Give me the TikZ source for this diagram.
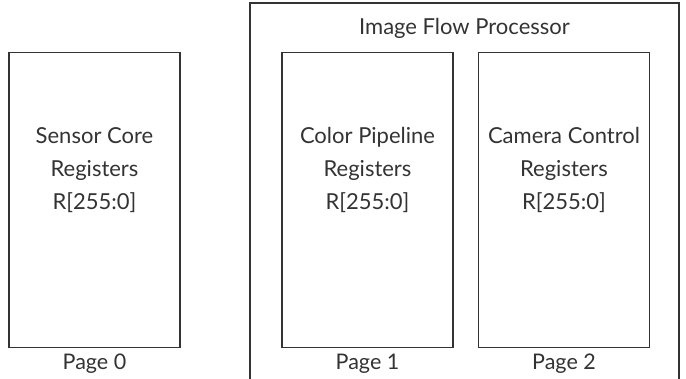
\documentclass[tikz,border=0pt]{standalone}
\usepackage{fontspec}
\setmainfont{Lato}
\usepackage{tikz}
\usetikzlibrary{positioning}

\definecolor{ink}{HTML}{333333}

\tikzset{
    regbox/.style={draw=ink, line width=1.4pt, minimum width=171pt, minimum height=295pt, inner sep=0pt},
    regtext/.style={text=ink, font=\fontsize{22}{33}\selectfont, align=center},
    pagetext/.style={text=ink, font=\fontsize{21.5}{24}\selectfont}
}

\begin{document}
\begin{tikzpicture}[x=1pt,y=-1pt]
    \useasboundingbox (0,0) rectangle (686,379);

    % outer block, open at the bottom
    \draw[ink, line width=1.4pt] (250,379) -- (250,3) -- (679,3) -- (679,379);
    \node[regtext] (ifp) at (464.5,28) {Image Flow Processor};

    \node[regbox] (sensor) at (94.5,200) {};
    \node[regbox] (color) at (367.5,200) {};
    \node[regbox] (camera) at (564,200) {};

    \node[regtext] (sensorlbl) at (94.5,170) {Sensor Core\\Registers\\R[255:0]};
    \node[regtext] (colorlbl) at (367.5,170) {Color Pipeline\\Registers\\R[255:0]};
    \node[regtext] (cameralbl) at (564,170) {Camera Control\\Registers\\R[255:0]};

    \node[pagetext, below=2pt of sensor] (page0) {Page 0};
    \node[pagetext, below=2pt of color] (page1) {Page 1};
    \node[pagetext, below=2pt of camera] (page2) {Page 2};
\end{tikzpicture}
\end{document}
